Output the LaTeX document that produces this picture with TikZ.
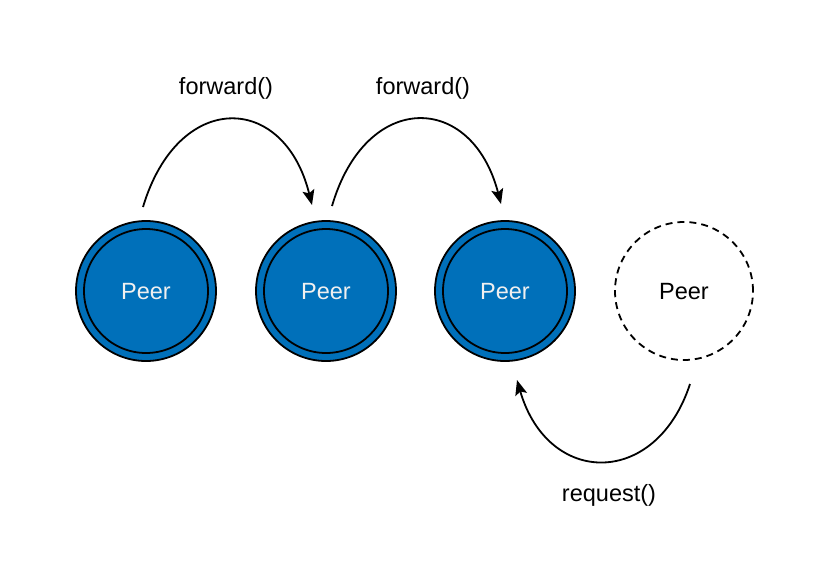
\documentclass[tikz,border=0pt]{standalone}
\usepackage{fontspec}
\setmainfont{Liberation Sans}
\usetikzlibrary{arrows.meta}
\definecolor{peerblue}{HTML}{0070BA}
\definecolor{peertext}{HTML}{F0F0F0}
\tikzset{
  peer/.style={circle, draw=black, line width=1.8pt, fill=peerblue, minimum size=140pt, inner sep=0pt, text=peertext, font=\fontsize{23.5}{28}\selectfont},
  ghost/.style={circle, draw=black, line width=1.8pt, dash pattern=on 7pt off 5pt, minimum size=138pt, inner sep=0pt, text=black, font=\fontsize{23.5}{28}\selectfont},
  inner ring/.style={draw=black, line width=1.8pt},
  peerlabel/.style={text=peertext, font=\fontsize{23.5}{28}\selectfont},
  call/.style={draw=black, line width=1.8pt, -{Stealth[length=15pt,width=12pt,inset=3pt]}},
  lbl/.style={font=\fontsize{23.5}{28}\selectfont, text=black, inner sep=0pt}
}
\begin{document}
\begin{tikzpicture}[x=1pt,y=-1pt]
\useasboundingbox (0,0) rectangle (832,563);
\node[peer] (p1) at (146,291) {};
\node[peer] (p2) at (326,291) {};
\node[peer] (p3) at (505,291) {};
\draw[inner ring] (p1.center) circle (62pt);
\draw[inner ring] (p2.center) circle (62pt);
\draw[inner ring] (p3.center) circle (62pt);
\node[peerlabel] (t1) at (146,292) {Peer};
\node[peerlabel] (t2) at (326,292) {Peer};
\node[peerlabel] (t3) at (505,292) {Peer};
\node[ghost] (p4) at (684,291) {};
\node[lbl] (t4) at (684,292) {Peer};

\coordinate (s1) at (143,207);
\coordinate (e1) at (312,205);
\coordinate (s2) at (332,206);
\coordinate (e2) at (501,204);
\coordinate (s3) at (690,384);
\coordinate (e3) at (517,380);

\draw[call] (s1) .. controls (178,90) and (284,92) .. (e1);
\draw[call] (s2) .. controls (366,90) and (472,92) .. (e2);
\draw[call] (s3) .. controls (656,488) and (548,487) .. (e3);

\node[lbl] (l1) at (226,88) {forward()};
\node[lbl] (l2) at (423,88) {forward()};
\node[lbl] (l3) at (609,495) {request()};
\end{tikzpicture}
\end{document}
